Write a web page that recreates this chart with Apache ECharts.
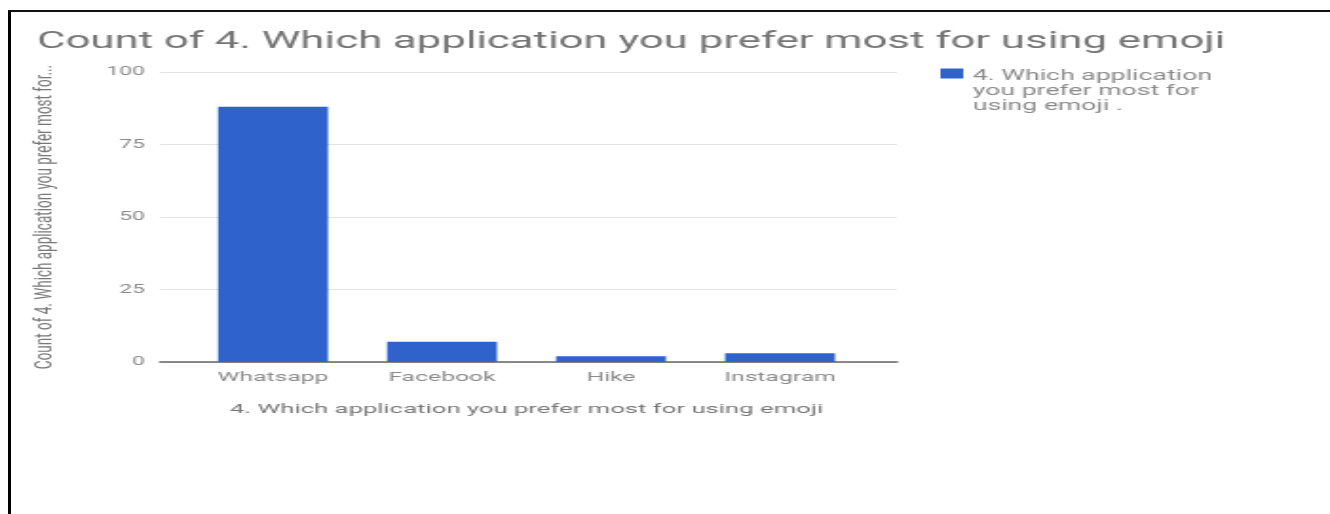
<!DOCTYPE html>
<html>
<head>
<meta charset="utf-8">
<script src="https://cdn.jsdelivr.net/npm/echarts@6/dist/echarts.min.js"></script>
<style>
  html, body { margin: 0; padding: 0; background: #fff; overflow: hidden; width: 1330px; height: 514px; }
  #page { position: relative; width: 1330px; height: 514px; overflow: hidden; background: #fff; }
  #chart { position: absolute; left: 0; top: 0; width: 700px; height: 514px; transform: scaleX(1.9); transform-origin: 0 0; }
  #lineLeft { position: absolute; left: 8px; top: 10px; width: 3px; height: 504px; background: #000; pointer-events: none; }
  #lineTop { position: absolute; left: 8px; top: 10px; width: 1322px; height: 2px; background: #111; pointer-events: none; }
</style>
</head>
<body>
<div id="page">
  <div id="chart"></div>
  <div id="lineLeft"></div>
  <div id="lineTop"></div>
</div>
<script>
// ---- data ----
const titleText = 'Count of 4. Which application you prefer most for using emoji';
const seriesName = '4. Which application you prefer most for using emoji .';
const xAxisName = '4. Which application you prefer most for using emoji';
const yAxisName = 'Count of 4. Which application you prefer most for...';
const categories = ['Whatsapp', 'Facebook', 'Hike', 'Instagram'];
const counts = [88, 7, 2, 3];
const yMin = 0, yMax = 100, yInterval = 25;

const chart = echarts.init(document.getElementById('chart'), null, { renderer: 'canvas' });
const grey = '#8a8a8a';
chart.setOption({
  animation: false,
  textStyle: { fontFamily: 'Roboto' },
  title: {
    text: titleText,
    left: 19.5, top: 31, padding: 0,
    textStyle: { fontFamily: 'Roboto', fontSize: 23, fontWeight: 'normal', color: '#757575' }
  },
  legend: {
    data: [seriesName],
    left: 490, top: 34,
    itemWidth: 12, itemHeight: 16,
    icon: 'path://M0,0h12v10h-12z M0,16h0',
    formatter: name => '\n\n' + name,
    textStyle: { fontFamily: 'Roboto', fontSize: 14, color: grey, lineHeight: 15, width: 130, overflow: 'break' }
  },
  grid: [
    { left: 84.2, top: 72, width: 387.9, height: 290 },
    { left: 99.2, top: 72, width: 355.8, height: 290 }
  ],
  xAxis: [
    { type: 'value', gridIndex: 0, min: 0, max: 1, show: true,
      axisLine: { show: true, onZero: false, lineStyle: { color: '#666', width: 1.5 } },
      axisTick: { show: false }, axisLabel: { show: false }, splitLine: { show: false } },
    { type: 'category', gridIndex: 1, data: categories,
      axisLine: { show: false }, axisTick: { show: false },
      axisLabel: { color: grey, fontSize: 13, margin: 9, fontFamily: 'Roboto' },
      name: xAxisName, nameLocation: 'middle', nameGap: 41,
      nameTextStyle: { color: '#777', fontSize: 13.5, fontFamily: 'Roboto' } }
  ],
  yAxis: [
    { type: 'value', gridIndex: 0, min: yMin, max: yMax, interval: yInterval,
      axisLine: { show: false }, axisTick: { show: false },
      axisLabel: { color: grey, fontSize: 12, margin: 8, fontFamily: 'Roboto' },
      splitLine: { lineStyle: { color: '#e3e3e3', width: 1 } },
      name: yAxisName, nameLocation: 'middle', nameGap: 54, nameRotate: 90,
      nameTextStyle: { color: '#777', fontSize: 13.5, fontFamily: 'Roboto' } },
    { type: 'value', gridIndex: 1, min: yMin, max: yMax, interval: yInterval, show: false }
  ],
  series: [{
    name: seriesName,
    type: 'bar',
    xAxisIndex: 1, yAxisIndex: 1,
    data: counts,
    barCategoryGap: '35%',
    itemStyle: { color: '#3062cc' }
  }]
});
</script>
</body>
</html>
